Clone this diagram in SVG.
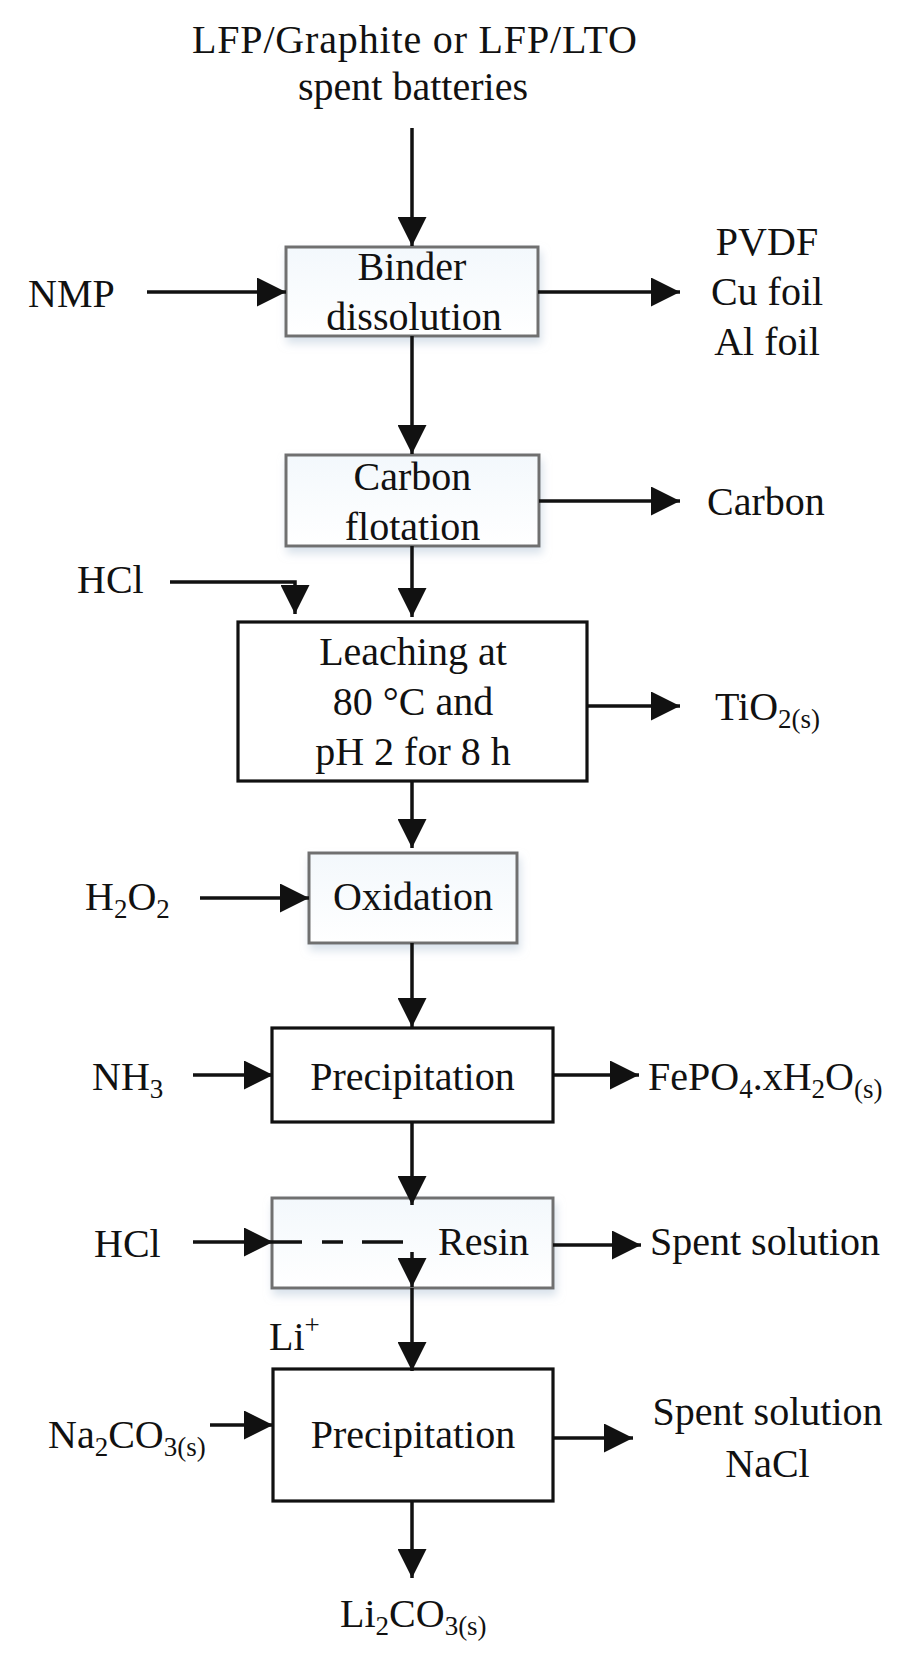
<svg xmlns="http://www.w3.org/2000/svg" width="911" height="1657" viewBox="0 0 911 1657">
<style>
text{font-family:"Liberation Serif","Times New Roman",serif;font-size:40px;fill:#111}
.c{text-anchor:middle}
.sub{font-size:27px}
.ln{fill:none;stroke:#111;stroke-width:3.5}
.arr{marker-end:url(#ah)}
.gbox{fill:url(#gf);stroke:#707070;stroke-width:3;filter:url(#sh)}
.kbox{fill:#fff;stroke:#111;stroke-width:3.2}
</style>
<defs>
<marker id="ah" markerUnits="userSpaceOnUse" markerWidth="29" markerHeight="29" refX="29" refY="14.5" orient="auto" viewBox="0 0 29 29">
<path d="M0,0 L29,14.5 L0,29 Z" fill="#111"/>
</marker>
<linearGradient id="gf" x1="0" y1="0" x2="0" y2="1">
<stop offset="0" stop-color="#f3f8fc"/>
<stop offset="1" stop-color="#ffffff"/>
</linearGradient>
<filter id="sh" x="-10%" y="-10%" width="125%" height="140%">
<feDropShadow dx="2" dy="6" stdDeviation="4" flood-color="#b9c9da" flood-opacity="0.55"/>
</filter>
</defs>
<rect width="911" height="1657" fill="#fff"/>

<g id="source">
<text class="c" x="414.5" y="53" textLength="445" lengthAdjust="spacing">LFP/Graphite or LFP/LTO</text>
<text class="c" x="413" y="100">spent batteries</text>
</g>

<g id="binder-dissolution">
<rect class="gbox" x="286" y="247" width="252" height="89"/>
<text class="c" x="412" y="280">Binder</text>
<text class="c" x="414" y="330">dissolution</text>
</g>
<g id="nmp"><text x="28" y="307">NMP</text></g>
<g id="pvdf">
<text class="c" x="767" y="255">PVDF</text>
<text class="c" x="767" y="305">Cu foil</text>
<text class="c" x="767" y="355">Al foil</text>
</g>

<g id="carbon-flotation">
<rect class="gbox" x="286" y="455" width="253" height="91"/>
<text class="c" x="412.5" y="490">Carbon</text>
<text class="c" x="412.5" y="540">flotation</text>
</g>
<g id="carbon"><text x="707" y="515">Carbon</text></g>

<g id="hcl1"><text x="77" y="593">HCl</text></g>
<g id="leaching">
<rect class="kbox" x="238" y="622" width="349" height="159"/>
<text class="c" x="413" y="665">Leaching at</text>
<text class="c" x="413" y="715">80 °C and</text>
<text class="c" x="413" y="765">pH 2 for 8 h</text>
</g>
<g id="tio2"><text x="715" y="720">TiO<tspan class="sub" dy="8">2(s)</tspan></text></g>

<g id="h2o2"><text x="85" y="910">H<tspan class="sub" dy="8">2</tspan><tspan dy="-8">O</tspan><tspan class="sub" dy="8">2</tspan></text></g>
<g id="oxidation">
<rect class="gbox" x="309" y="853" width="208" height="90"/>
<text class="c" x="413" y="910">Oxidation</text>
</g>

<g id="nh3"><text x="92" y="1090">NH<tspan class="sub" dy="8">3</tspan></text></g>
<g id="precipitation1">
<rect class="kbox" x="272" y="1028" width="281" height="94"/>
<text class="c" x="412.5" y="1090">Precipitation</text>
</g>
<g id="fepo4"><text x="648" y="1090">FePO<tspan class="sub" dy="8">4</tspan><tspan dy="-8">.xH</tspan><tspan class="sub" dy="8">2</tspan><tspan dy="-8">O</tspan><tspan class="sub" dy="8">(s)</tspan></text></g>

<g id="hcl2"><text x="94" y="1257">HCl</text></g>
<g id="resin">
<rect class="gbox" x="272" y="1198" width="281" height="90"/>
<text x="438" y="1255">Resin</text>
</g>
<g id="spent1"><text x="650" y="1255">Spent solution</text></g>

<g id="li"><text x="269" y="1350">Li<tspan font-size="27" dy="-16">+</tspan></text></g>

<g id="na2co3"><text x="48" y="1448">Na<tspan class="sub" dy="8">2</tspan><tspan dy="-8">CO</tspan><tspan class="sub" dy="8">3(s)</tspan></text></g>
<g id="precipitation2">
<rect class="kbox" x="273" y="1369" width="280" height="132"/>
<text class="c" x="413" y="1448">Precipitation</text>
</g>
<g id="spent2">
<text class="c" x="767.5" y="1425">Spent solution</text>
<text class="c" x="767.5" y="1477">NaCl</text>
</g>
<g id="li2co3"><text x="340" y="1627">Li<tspan class="sub" dy="8">2</tspan><tspan dy="-8">CO</tspan><tspan class="sub" dy="8">3(s)</tspan></text></g>

<g id="connectors">
<path class="ln arr" d="M412,128 V246"/>
<path class="ln arr" d="M147,292 H286"/>
<path class="ln arr" d="M538,292 H680"/>
<path class="ln arr" d="M412,336 V454"/>
<path class="ln arr" d="M539,501 H680"/>
<path class="ln arr" d="M412,546 V617"/>
<path class="ln arr" d="M170,582 H295 V614"/>
<path class="ln arr" d="M587,706 H680"/>
<path class="ln arr" d="M412,781 V848"/>
<path class="ln arr" d="M200,898 H309"/>
<path class="ln arr" d="M412,943 V1027"/>
<path class="ln arr" d="M193,1075 H273"/>
<path class="ln arr" d="M553,1075 H639"/>
<path class="ln arr" d="M412,1122 V1205"/>
<path class="ln arr" d="M193,1242 H273"/>
<path class="ln" d="M273,1242 H302 M322,1242 H343 M362,1242 H403"/>
<path class="ln arr" d="M553,1245 H641"/>
<path class="ln arr" d="M412,1252 V1287"/>
<path class="ln arr" d="M412,1288 V1371"/>
<path class="ln arr" d="M210,1425 H273"/>
<path class="ln arr" d="M553,1438 H633"/>
<path class="ln arr" d="M412,1502 V1578"/>
</g>
</svg>
